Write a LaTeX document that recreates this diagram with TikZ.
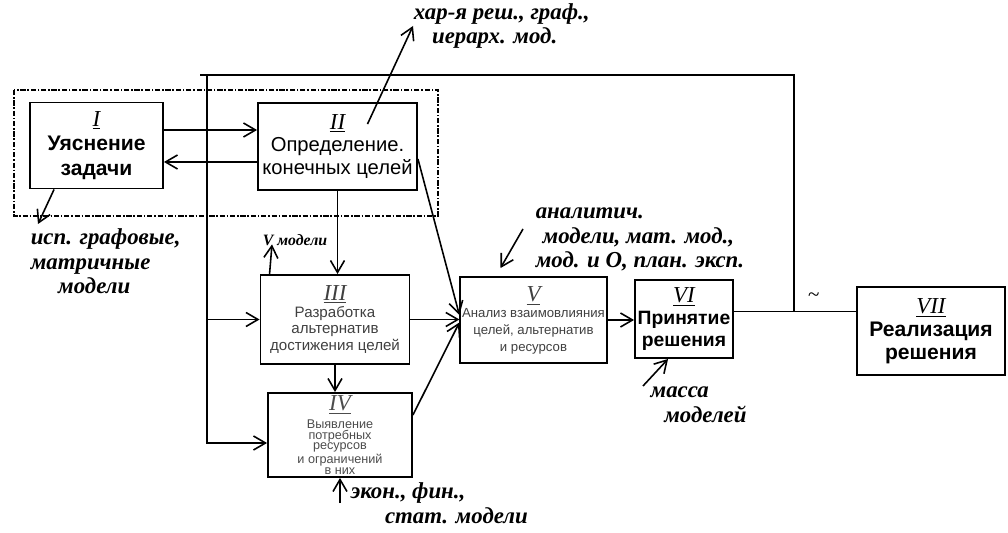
\documentclass[tikz,border=0pt]{standalone}
\usepackage{fontspec}
\setmainfont{Liberation Sans}
\newfontfamily\hand{Liberation Serif}
\usetikzlibrary{arrows.meta, calc, positioning}
\newcommand{\blknum}[1]{{\hand\itshape\mdseries\fontsize{13}{13}\selectfont\underline{#1}}}

\begin{document}
\begin{tikzpicture}[x=0.02cm, y=-0.02cm, line width=0.9pt,
  >={Straight Barb[length=2.4mm,width=2.8mm]},
  blk/.style={draw, line width=1.1pt, align=center, inner sep=1pt},
  note/.style={font=\hand\itshape\bfseries\fontsize{13}{14}\selectfont, align=left, inner sep=0pt}]
\useasboundingbox (0,0) rectangle (1008,533);

% frame of the problem statement stage
\draw[densely dash dot, line width=0.6pt] (14,90) rectangle (438,216);

\node (Zad) [blk, minimum width=2.66cm, minimum height=1.72cm, font=\bfseries\fontsize{12}{14}\selectfont] at (96.5,145.5) {\blknum{I}\\Уяснение\\задачи};
\node (Cel) [blk, minimum width=3.18cm, minimum height=1.74cm, font=\fontsize{11.5}{13}\selectfont] at (337.5,146.5) {\blknum{II}\\Определение.\\конечных целей};
\node (Alt) [blk, minimum width=2.98cm, minimum height=1.78cm, font=\fontsize{8.6}{9.6}\selectfont, text=black!75] at (335,319.5) {\blknum{III}\\Разработка\\альтернатив\\достижения целей};
\node (Res) [blk, minimum width=2.88cm, minimum height=1.68cm, inner sep=0pt, font=\fontsize{7.2}{6}\selectfont, text=black!70] at (340,435) {\blknum{IV}\\[2pt]Выявление\\потребных\\ресурсов\\и ограничений\\в них};
\node (An) [blk, minimum width=2.86cm, minimum height=1.72cm, font=\fontsize{7.5}{9.5}\selectfont, text=black!75] at (533.5,320) {\blknum{V}\\Анализ взаимовлияния\\целей, альтернатив\\и ресурсов};
\node (Resh) [blk, minimum width=1.96cm, minimum height=1.56cm, font=\bfseries\fontsize{11}{12.5}\selectfont] at (684,319) {\blknum{VI}\\Принятие\\решения};
\node (Real) [blk, minimum width=2.96cm, minimum height=1.76cm, font=\bfseries\fontsize{12}{13}\selectfont] at (931,331) {\blknum{VII}\\Реализация\\решения};

% handwritten remarks
\node (nZad) [note, anchor=north west] at (30,228) {исп. графовые,\\матричные\\\hspace{1.2em}модели};
\node (nCel) [note, anchor=west] at (413,26) {хар-я реш., граф.,\\\hspace{0.8em}иерарх. мод.};
\node (nAlt) [note, anchor=west, font=\hand\itshape\bfseries\fontsize{9}{10}\selectfont] at (262,240) {V модели};
\node (nAn) [note, anchor=north west] at (535,207) {аналитич.\\\hspace{0.3em}модели, мат. мод.,\\мод. и О, план. эксп.};
\node (nResh) [note, anchor=north west] at (643,386) {\hspace{0.3em}масса\\\hspace{0.9em}моделей};
\node (nRes) [note, anchor=north west] at (350,482) {экон., фин.,\\\hspace{1.5em}стат. модели};

% main links
\draw[->] ([yshift=0.31cm]Zad.east) -- ([yshift=0.31cm]Zad.east -| Cel.west);
\draw[->] ([yshift=-0.33cm]Zad.east -| Cel.west) -- ([yshift=-0.33cm]Zad.east);
\draw[->] (Cel.south) -- (Cel.south |- Alt.north);
\draw[->] (Alt.south) -- (Alt.south |- Res.north);
\draw[->] ([yshift=-0.25cm]Cel.east) -- ([yshift=0.1cm]An.west);
\draw[->] (Alt.east) -- (Alt.east -| An.west);
\draw[->] ([yshift=0.4cm]Res.east) -- ([yshift=-0.05cm]An.west);
\draw[->] (An.east) -- (An.east -| Resh.west);
\draw ([yshift=0.15cm]Resh.east) -- ([yshift=0.15cm]Resh.east -| Real.west);

% feedback
\coordinate (fb) at ($([yshift=0.15cm]Resh.east)!0.49!([yshift=0.15cm]Resh.east -| Real.west)$);
\coordinate (tl) at (207,75);
\draw (fb) |- (tl) -- ++(-7,0);
\draw[->] (tl) |- ([yshift=-0.16cm]Res.west);
\draw[->] (tl |- Alt.west) -- (Alt.west);
\node (tld) [font=\hand\fontsize{12}{12}\selectfont, inner sep=0pt] at ($(fb)+(20,-14)$) {\~{}};

% remark pointers
\draw[->] ($(Cel.north)+(30,22)$) -- (nCel.west);
\draw[->] ($(Zad.south west)+(25,0)$) -- ($(nZad.north west)+(8,-4)$);
\draw[->] ($(Alt.north west)+(10,0)$) -- ($(nAlt.south west)+(10,-2)$);
\draw[->] ($(nAn.north west)+(-12,22)$) -- ($(An.north)+(-33,-8)$);
\draw[->] (nResh.north west) -- ($(Resh.south west)+(34,0)$);
\draw[->] (nRes.west -| Res.south) -- (Res.south);
\end{tikzpicture}
\end{document}
